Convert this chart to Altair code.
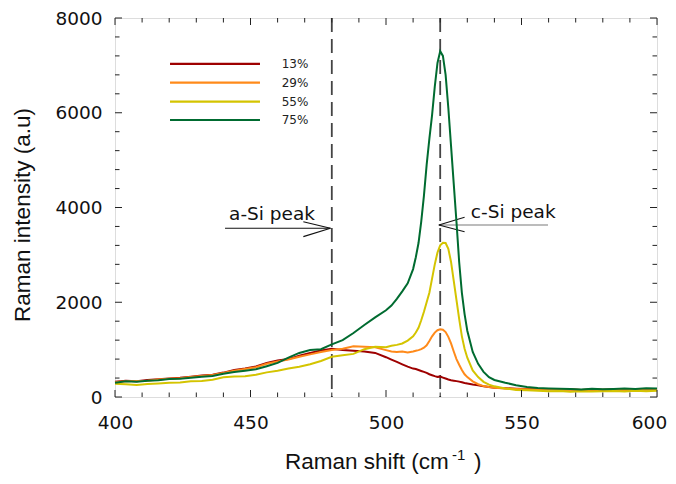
import altair as alt
import pandas as pd

# ---------------- data ----------------
shift = [400, 404, 408, 412, 416, 420, 424, 428, 432, 436, 440, 444, 448, 452, 456, 460, 464, 468, 472, 476,
         480, 484, 488, 492, 496,
         500, 502, 504, 506, 508,
         510, 511, 512, 513, 514, 515, 516, 517, 518, 519, 520, 521, 522, 523, 524, 525, 526, 527, 528, 529, 530,
         532, 534, 536, 538, 540,
         544, 548, 552, 556, 560, 564, 568, 572, 576, 580, 584, 588, 592, 596, 600]

int_13 = [320, 345, 335, 360, 375, 390, 405, 430, 455, 470, 515, 570, 600, 645, 720, 770, 800, 870, 930, 980,
          1020, 990, 975, 960, 930,
          840, 790, 740, 690, 640,
          600, 590, 570, 550, 530, 510, 480, 460, 440, 425, 430, 410, 390, 370, 355, 345, 335, 325, 310, 295, 285,
          265, 250, 225, 210, 195,
          185, 175, 170, 165, 170, 160, 165, 150, 160, 155, 165, 150, 160, 165, 160]

int_29 = [310, 330, 340, 345, 370, 385, 395, 420, 445, 465, 505, 555, 590, 630, 700, 750, 790, 850, 900, 950,
          990, 1020, 1070, 1060, 1050,
          990, 960, 950, 960, 940,
          960, 975, 990, 1010, 1040, 1090, 1180, 1280, 1360, 1410, 1430, 1420, 1370, 1270, 1130, 960, 800, 680, 570, 480, 420,
          330, 270, 230, 210, 195,
          180, 170, 165, 160, 165, 155, 160, 150, 160, 155, 160, 150, 160, 165, 160]

int_55 = [280, 270, 255, 275, 285, 300, 305, 330, 340, 365, 415, 435, 440, 470, 520, 555, 600, 640, 690, 760,
          850, 880, 910, 1010, 1060,
          1050, 1080, 1100, 1130, 1190,
          1280, 1360, 1460, 1620, 1800, 2000, 2200, 2500, 2800, 3050, 3200, 3255, 3250, 3130, 2850, 2450, 2050, 1650, 1280, 1020, 830,
          560, 420, 320, 260, 225,
          180, 150, 140, 130, 120, 125, 110, 120, 115, 120, 125, 115, 130, 120, 130]

int_75 = [300, 330, 320, 345, 355, 380, 385, 405, 425, 445, 490, 530, 555, 585, 650, 720, 830, 930, 990, 1010,
          1110, 1200, 1350, 1520, 1680,
          1830, 1930, 2070, 2230, 2400,
          2700, 2950, 3250, 3700, 4250, 4900, 5450, 5950, 6550, 7050, 7300, 7200, 6800, 6100, 5300, 4500, 3700, 2850, 2200, 1750, 1400,
          950, 700, 530, 420, 360,
          300, 250, 210, 190, 180, 175, 170, 160, 175, 165, 170, 180, 170, 185, 180]

series_names = ["13%", "29%", "55%", "75%"]
series_colors = ["#9e0000", "#ff8a1a", "#d4c400", "#006b30"]

peak_lines = [480, 520]

x_major = [400, 450, 500, 550, 600]
x_minor = [410, 420, 430, 440, 460, 470, 480, 490, 510, 520, 530, 540, 560, 570, 580, 590]
y_major = [0, 2000, 4000, 6000, 8000]
y_minor = [400, 800, 1200, 1600, 2400, 2800, 3200, 3600, 4400, 4800, 5200, 5600, 6400, 6800, 7200, 7600]

# annotation arrows (data units)
seg_x1 = [440.6, 469.5, 469.5, 519.5, 519.5, 519.5]
seg_y1 = [3561, 3701, 3385, 3631, 3631, 3631]
seg_x2 = [479.5, 479.5, 479.5, 559.8, 529.0, 529.0]
seg_y2 = [3561, 3561, 3561, 3631, 3794, 3490]
seg_col = ["#111111", "#111111", "#111111", "#7a7a7a", "#111111", "#111111"]

ann_text = ["a-Si peak", "c-Si peak"]
ann_x = [442.1, 531.3]
ann_y = [3737, 3785]

# manual legend (data units)
leg_x1 = [420.3, 420.3, 420.3, 420.3]
leg_x2 = [453.5, 453.5, 453.5, 453.5]
leg_y = [7030, 6635, 6234, 5847]
leg_text_x = [461.5, 461.5, 461.5, 461.5]

# ---------------- tables ----------------
rows = []
for name, vals in zip(series_names, [int_13, int_29, int_55, int_75]):
    for xv, yv in zip(shift, vals):
        rows.append({"shift": xv, "intensity": yv, "series": name})
lines_df = pd.DataFrame(rows)

seg_df = pd.DataFrame({"x1": seg_x1, "y1": seg_y1, "x2": seg_x2, "y2": seg_y2, "c": seg_col})
ann_df = pd.DataFrame({"t": ann_text, "x": ann_x, "y": ann_y})
leg_df = pd.DataFrame({"x1": leg_x1, "x2": leg_x2, "y": leg_y, "tx": leg_text_x,
                       "series": series_names})
peak_df = pd.DataFrame({"x": peak_lines})

W, H = 542, 379

x_scale = alt.Scale(domain=[400, 600], nice=False, zero=False)
y_scale = alt.Scale(domain=[0, 8000], nice=False, zero=False)
x_axis = alt.Axis(values=x_major, labelFont="DejaVu Sans", labelFontSize=18.5, labelColor="#111",
                  labelPadding=16, ticks=False, tickSize=0, domain=False, grid=False, title=None,
                  labelFlush=False, labelOverlap=False, format="d",
                  labelOffset=alt.expr("datum.value == 600 ? -8 : 0"))
y_axis = alt.Axis(values=y_major, labelFont="DejaVu Sans", labelFontSize=18.5, labelColor="#111",
                  labelPadding=13, ticks=False, tickSize=0, domain=False, grid=False, title=None,
                  labelFlush=False, labelOverlap=False, format="d")


def X(f):
    return alt.X(f, type="quantitative", scale=x_scale, axis=x_axis)


def Y(f):
    return alt.Y(f, type="quantitative", scale=y_scale, axis=y_axis)


color_scale = alt.Scale(domain=series_names, range=series_colors)

peaks = alt.Chart(peak_df).mark_rule(color="#444", strokeWidth=1.8, strokeDash=[14, 7]).encode(
    x=X("x"), y=alt.value(0), y2=alt.value(H))

segs = alt.Chart(seg_df).mark_rule(strokeWidth=1.1).encode(
    x=X("x1"), y=Y("y1"), x2="x2", y2="y2",
    color=alt.Color("c:N", scale=None, legend=None))

lines = alt.Chart(lines_df).mark_line(strokeWidth=2, interpolate="linear").encode(
    x=X("shift"), y=Y("intensity"),
    color=alt.Color("series:N", scale=color_scale, legend=None),
    detail="series:N")

ann = alt.Chart(ann_df).mark_text(font="DejaVu Sans", fontSize=18.5, align="left",
                                  baseline="alphabetic", color="#111").encode(
    x=X("x"), y=Y("y"), text="t:N")

leg_lines = alt.Chart(leg_df).mark_rule(strokeWidth=2.2).encode(
    x=X("x1"), x2="x2", y=Y("y"),
    color=alt.Color("series:N", scale=color_scale, legend=None))

leg_text = alt.Chart(leg_df).mark_text(font="DejaVu Sans", fontSize=12, align="left",
                                       baseline="middle", color="#222").encode(
    x=X("tx"), y=Y("y"), text="series:N")

tick_color = "#222"
xmaj_df = pd.DataFrame({"v": x_major})
xmin_df = pd.DataFrame({"v": x_minor})
ymaj_df = pd.DataFrame({"v": y_major})
ymin_df = pd.DataFrame({"v": y_minor})

ticks = []
for df, ln in [(xmaj_df, 7), (xmin_df, 4.5)]:
    ticks.append(alt.Chart(df).mark_rule(color=tick_color, strokeWidth=1).encode(
        x=X("v"), y=alt.value(H), y2=alt.value(H - ln)))
    ticks.append(alt.Chart(df).mark_rule(color=tick_color, strokeWidth=1).encode(
        x=X("v"), y=alt.value(0), y2=alt.value(ln)))
for df, ln in [(ymaj_df, 7), (ymin_df, 4.5)]:
    ticks.append(alt.Chart(df).mark_rule(color=tick_color, strokeWidth=1).encode(
        y=Y("v"), x=alt.value(0), x2=alt.value(ln)))
    ticks.append(alt.Chart(df).mark_rule(color=tick_color, strokeWidth=1).encode(
        y=Y("v"), x=alt.value(W), x2=alt.value(W - ln)))

title_font = "Liberation Sans"
TY = 451  # baseline of x title (plot coords)
xt1 = alt.Chart(pd.DataFrame({"t": ["Raman shift (cm"]})).mark_text(
    font=title_font, fontSize=22.5, align="left", baseline="alphabetic", color="#111").encode(
    text="t:N", x=alt.value(170), y=alt.value(TY))
xt2 = alt.Chart(pd.DataFrame({"t": ["-1"]})).mark_text(
    font=title_font, fontSize=15, align="left", baseline="alphabetic", color="#111").encode(
    text="t:N", x=alt.value(337), y=alt.value(TY - 9))
xt3 = alt.Chart(pd.DataFrame({"t": [")"]})).mark_text(
    font=title_font, fontSize=22.5, align="left", baseline="alphabetic", color="#111").encode(
    text="t:N", x=alt.value(359), y=alt.value(TY))
yt = alt.Chart(pd.DataFrame({"t": ["Raman intensity (a.u)"]})).mark_text(
    font=title_font, fontSize=22.5, align="center", baseline="middle", angle=270, color="#111").encode(
    text="t:N", x=alt.value(-92), y=alt.value(197))

chart = alt.layer(peaks, segs, lines, ann, leg_lines, leg_text, *ticks, xt1, xt2, xt3, yt).properties(
    width=W, height=H,
    autosize=alt.AutoSizeParams(type="none"),
    padding={"left": 107, "top": 10, "right": 10, "bottom": 78},
).configure_view(stroke="#222", strokeWidth=1.2).configure(background="white")

chart.save("out.html", embed_options={"renderer": "svg", "actions": False})
